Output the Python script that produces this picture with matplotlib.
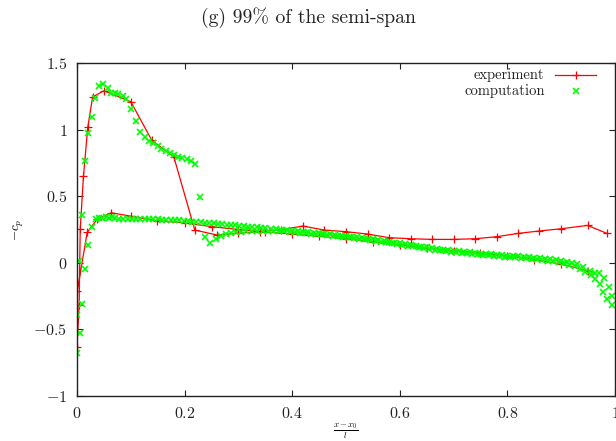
import matplotlib
matplotlib.use('Agg')
import matplotlib.pyplot as plt
from matplotlib.ticker import FuncFormatter, FixedLocator
from matplotlib.lines import Line2D

plt.rcParams['font.family'] = 'serif'
plt.rcParams['font.serif'] = ['cmr10', 'DejaVu Serif']
plt.rcParams['mathtext.fontset'] = 'cm'
plt.rcParams['axes.formatter.use_mathtext'] = True

# measured cp, suction side from trailing edge round the nose, then pressure side
exp_x = [0.985, 0.949, 0.900, 0.859, 0.820, 0.780, 0.740, 0.700, 0.660, 0.620,
         0.580, 0.540, 0.500, 0.460, 0.420, 0.380, 0.340, 0.300, 0.260, 0.219,
         0.180, 0.139, 0.100, 0.050, 0.029, 0.020, 0.012, 0.006, 0.004, 0.000,
         0.0005, 0.019, 0.038, 0.064, 0.100, 0.149, 0.200, 0.250, 0.300, 0.350,
         0.400, 0.450, 0.500, 0.550, 0.600, 0.650, 0.700, 0.749, 0.800, 0.850,
         0.900, 0.950]
exp_cp = [0.221, 0.281, 0.256, 0.239, 0.221, 0.196, 0.181, 0.176, 0.176, 0.181,
          0.189, 0.216, 0.234, 0.246, 0.276, 0.250, 0.235, 0.222, 0.209, 0.246,
          0.795, 0.920, 1.210, 1.292, 1.245, 1.017, 0.650, 0.254, -0.317, -0.630,
          -0.210, 0.229, 0.330, 0.376, 0.350, 0.316, 0.300, 0.272, 0.250, 0.232,
          0.215, 0.200, 0.180, 0.158, 0.134, 0.110, 0.090, 0.076, 0.050, 0.025,
          -0.010, -0.060]

# computed cp, suction side
cs_x = [0.000, 0.006, 0.004, 0.010, 0.015, 0.021, 0.027, 0.033, 0.041, 0.049,
        0.057, 0.064, 0.071, 0.077, 0.085, 0.092, 0.100, 0.109, 0.117, 0.126,
        0.134, 0.142, 0.150, 0.157, 0.165, 0.173, 0.181, 0.188, 0.196, 0.204,
        0.211, 0.219, 0.229, 0.238, 0.247, 0.258, 0.268, 0.277, 0.286, 0.295,
        0.305, 0.315, 0.325, 0.335, 0.345, 0.355, 0.365, 0.375, 0.385, 0.395,
        0.405, 0.415, 0.425, 0.435, 0.445, 0.455, 0.465, 0.475, 0.485, 0.495,
        0.505, 0.515, 0.525, 0.535, 0.545, 0.555, 0.565, 0.575, 0.585, 0.595,
        0.605, 0.615, 0.625, 0.635, 0.645, 0.655, 0.665, 0.675, 0.685, 0.695,
        0.705, 0.715, 0.725, 0.735, 0.745, 0.755, 0.765, 0.775, 0.785, 0.795,
        0.805, 0.815, 0.825, 0.835, 0.845, 0.855, 0.865, 0.875, 0.885, 0.895,
        0.905, 0.915, 0.925, 0.935, 0.945, 0.955, 0.963, 0.972, 0.978, 0.986,
        0.994]
cs_cp = [-0.680, -0.530, 0.016, 0.359, 0.767, 0.972, 1.092, 1.240, 1.327, 1.342,
         1.310, 1.277, 1.272, 1.267, 1.252, 1.227, 1.152, 1.065, 0.984, 0.947,
         0.914, 0.897, 0.877, 0.854, 0.839, 0.822, 0.809, 0.797, 0.784, 0.777,
         0.767, 0.742, 0.492, 0.196, 0.146, 0.179, 0.201, 0.216, 0.226, 0.230,
         0.233, 0.236, 0.238, 0.240, 0.240, 0.240, 0.240, 0.238, 0.236, 0.233,
         0.230, 0.227, 0.224, 0.220, 0.217, 0.213, 0.209, 0.205, 0.200, 0.196,
         0.191, 0.186, 0.181, 0.176, 0.171, 0.165, 0.159, 0.153, 0.147, 0.141,
         0.135, 0.129, 0.123, 0.117, 0.111, 0.105, 0.099, 0.094, 0.089, 0.084,
         0.079, 0.075, 0.071, 0.067, 0.063, 0.060, 0.056, 0.053, 0.050, 0.047,
         0.044, 0.041, 0.038, 0.034, 0.031, 0.027, 0.022, 0.017, 0.011, 0.004,
         -0.004, -0.014, -0.025, -0.045, -0.070, -0.095, -0.125, -0.160, -0.217, -0.274,
         -0.317]

# computed cp, pressure side
cl_x = [0.000, 0.010, 0.015, 0.021, 0.027, 0.035, 0.041, 0.047, 0.053, 0.059,
        0.065, 0.071, 0.078, 0.086, 0.094, 0.102, 0.110, 0.118, 0.126, 0.134,
        0.142, 0.150, 0.158, 0.166, 0.174, 0.182, 0.190, 0.198, 0.206, 0.214,
        0.222, 0.230, 0.238, 0.246, 0.254, 0.262, 0.270, 0.278, 0.286, 0.294,
        0.302, 0.310, 0.318, 0.326, 0.334, 0.342, 0.350, 0.360, 0.370, 0.380,
        0.390, 0.400, 0.410, 0.420, 0.430, 0.440, 0.450, 0.460, 0.470, 0.480,
        0.490, 0.500, 0.510, 0.520, 0.530, 0.540, 0.550, 0.560, 0.570, 0.580,
        0.590, 0.600, 0.610, 0.620, 0.630, 0.640, 0.650, 0.660, 0.670, 0.680,
        0.690, 0.700, 0.710, 0.720, 0.730, 0.740, 0.750, 0.760, 0.770, 0.780,
        0.790, 0.800, 0.810, 0.820, 0.830, 0.840, 0.850, 0.860, 0.870, 0.880,
        0.890, 0.900, 0.910, 0.920, 0.930, 0.940, 0.953, 0.963, 0.971, 0.980,
        0.988, 0.994]
cl_cp = [-0.390, -0.310, -0.047, 0.134, 0.271, 0.327, 0.333, 0.338, 0.342, 0.338,
         0.342, 0.335, 0.330, 0.330, 0.330, 0.330, 0.329, 0.329, 0.328, 0.328,
         0.327, 0.326, 0.325, 0.324, 0.322, 0.320, 0.318, 0.316, 0.313, 0.310,
         0.307, 0.304, 0.302, 0.299, 0.296, 0.293, 0.290, 0.287, 0.284, 0.281,
         0.278, 0.275, 0.272, 0.269, 0.266, 0.263, 0.260, 0.256, 0.253, 0.249,
         0.246, 0.242, 0.238, 0.234, 0.230, 0.226, 0.222, 0.218, 0.214, 0.210,
         0.205, 0.200, 0.196, 0.191, 0.186, 0.181, 0.176, 0.170, 0.164, 0.158,
         0.152, 0.146, 0.140, 0.134, 0.128, 0.122, 0.116, 0.110, 0.105, 0.100,
         0.095, 0.090, 0.086, 0.082, 0.078, 0.074, 0.070, 0.067, 0.064, 0.061,
         0.058, 0.055, 0.052, 0.049, 0.046, 0.042, 0.039, 0.035, 0.031, 0.026,
         0.021, 0.015, 0.008, 0.000, -0.010, -0.030, -0.060, -0.079, -0.080, -0.116,
         -0.179, -0.250]

x_ticks = [0, 0.2, 0.4, 0.6, 0.8, 1]
y_ticks = [-1, -0.5, 0, 0.5, 1, 1.5]

RED = '#ff0000'
GREEN = '#00ff00'

fig = plt.figure(figsize=(6.16, 4.41), dpi=100)
ax = fig.add_axes([0.125, 0.102, 0.8734, 0.755])

ax.plot(exp_x, exp_cp, color=RED, lw=0.9, marker='+', ms=6, mew=0.9)
ax.plot(cs_x, cs_cp, ls='none', color=GREEN, marker='x', ms=4.5, mew=1.2)
ax.plot(cl_x, cl_cp, ls='none', color=GREEN, marker='x', ms=4.5, mew=1.2)

ax.set_xlim(0, 1)
ax.set_ylim(-1, 1.5)
ax.xaxis.set_major_locator(FixedLocator(x_ticks))
ax.yaxis.set_major_locator(FixedLocator(y_ticks))
fmt = FuncFormatter(lambda v, p: r'$%g$' % v)
ax.xaxis.set_major_formatter(fmt)
ax.yaxis.set_major_formatter(fmt)
ax.tick_params(direction='in', length=4, width=0.8, top=True, right=True,
               labelsize=11.5, pad=7, colors='#222222')
for sp in ax.spines.values():
    sp.set_linewidth(1.0)
    sp.set_color('#222222')

ax.set_xlabel(r'$\frac{x-x_0}{l}$', fontsize=9, labelpad=0)
ax.set_ylabel(r'$-c_p$', fontsize=9.5, labelpad=5)
fig.text(0.5, 0.961, '(g) 99% of the semi-span', ha='center', va='center',
         fontsize=14.2, color='#222222')

# key, gnuplot style: right-aligned text followed by sample
ax.text(0.869, 0.965, 'experiment', transform=ax.transAxes, ha='right',
        va='center', fontsize=10.5, color='#222222')
ax.text(0.869, 0.917, 'computation', transform=ax.transAxes, ha='right',
        va='center', fontsize=10.5, color='#222222')
ax.add_line(Line2D([0.889, 0.965], [0.965, 0.965], transform=ax.transAxes,
                   color=RED, lw=0.9))
ax.add_line(Line2D([0.927], [0.965], transform=ax.transAxes, color=RED,
                   marker='+', ms=6, mew=0.9))
ax.add_line(Line2D([0.927], [0.917], transform=ax.transAxes, color=GREEN,
                   marker='x', ms=4.5, mew=1.2))

fig.savefig('out.png', dpi=100)
